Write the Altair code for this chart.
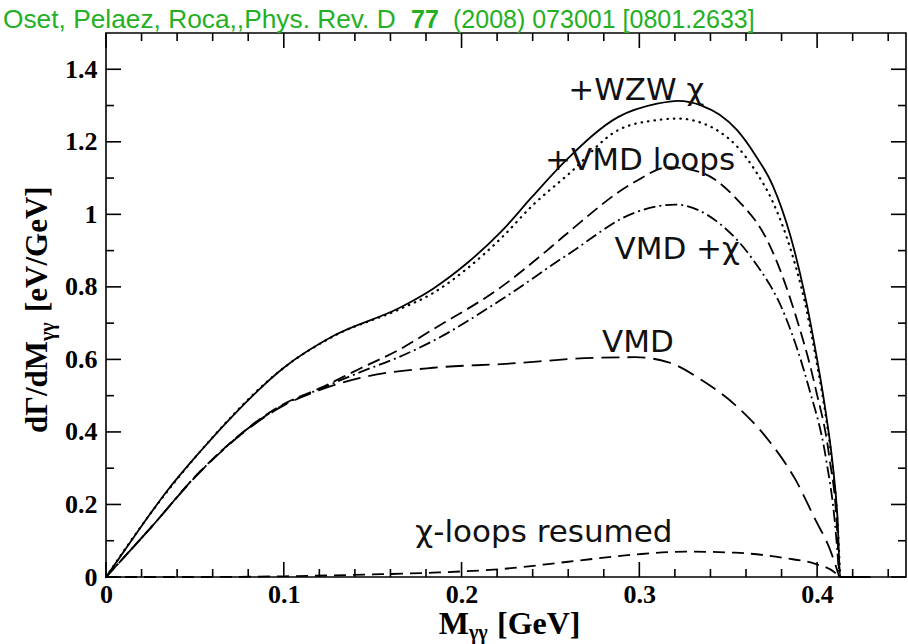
import altair as alt
import pandas as pd

# ---------------- data ----------------
solid_x = [0, 0.01, 0.025, 0.034, 0.053, 0.072, 0.1, 0.128, 0.1655, 0.184, 0.203, 0.2224, 0.24, 0.26,
           0.288, 0.31, 0.322, 0.335, 0.345, 0.355, 0.365, 0.375, 0.385, 0.393, 0.4, 0.405, 0.409,
           0.4115, 0.413, 0.43]
solid_y = [0, 0.07, 0.175, 0.235, 0.346, 0.448, 0.577, 0.665, 0.743, 0.795, 0.865, 0.953, 1.05, 1.155,
           1.268, 1.305, 1.313, 1.300, 1.275, 1.232, 1.165, 1.08, 0.94, 0.78, 0.6, 0.45, 0.3,
           0.16, 0, 0]

dotted_x = [0, 0.025, 0.053, 0.1, 0.128, 0.1655, 0.184, 0.203, 0.2224, 0.24, 0.26, 0.288, 0.31, 0.322,
            0.335, 0.345, 0.355, 0.365, 0.375, 0.385, 0.393, 0.4, 0.405, 0.409, 0.4115, 0.413]
dotted_y = [0, 0.175, 0.346, 0.577, 0.664, 0.739, 0.783, 0.85, 0.935, 1.025, 1.11, 1.232, 1.26, 1.264,
            1.252, 1.228, 1.187, 1.122, 1.035, 0.905, 0.76, 0.585, 0.44, 0.29, 0.15, 0]

dashed_x = [0, 0.025, 0.053, 0.1, 0.12, 0.143, 0.165, 0.184, 0.2224, 0.248, 0.26, 0.2976, 0.3164,
            0.335, 0.354, 0.373, 0.388, 0.399, 0.407, 0.411, 0.4125]
dashed_y = [0, 0.135, 0.291, 0.477, 0.52, 0.575, 0.627, 0.683, 0.80, 0.90, 0.95, 1.09, 1.13,
            1.115, 1.046, 0.918, 0.72, 0.523, 0.326, 0.15, 0]

dashdot_x = [0, 0.025, 0.053, 0.1, 0.12, 0.143, 0.165, 0.184, 0.2224, 0.26, 0.2976, 0.32, 0.3445,
             0.3633, 0.382, 0.3953, 0.405, 0.41, 0.4125]
dashdot_y = [0, 0.135, 0.291, 0.475, 0.518, 0.565, 0.607, 0.651, 0.765, 0.89, 1.005, 1.027, 0.977,
             0.879, 0.72, 0.523, 0.326, 0.15, 0]

vmd_x = [0, 0.025, 0.053, 0.1, 0.12, 0.143, 0.184, 0.2224, 0.2788, 0.2976, 0.3164, 0.335, 0.354,
         0.373, 0.388, 0.399, 0.407, 0.4125]
vmd_y = [0, 0.135, 0.29, 0.473, 0.515, 0.549, 0.577, 0.587, 0.605, 0.606, 0.592, 0.543, 0.474,
         0.375, 0.267, 0.158, 0.079, 0]

chiloop_x = [0, 0.05, 0.1, 0.15, 0.184, 0.2224, 0.26, 0.2976, 0.326, 0.354, 0.382, 0.399, 0.41, 0.4125]
chiloop_y = [0, 0.0, 0.002, 0.007, 0.012, 0.022, 0.042, 0.062, 0.07, 0.067, 0.052, 0.036, 0.012, 0]

label_text = ["+WZW \u03c7", "+VMD loops", "VMD +\u03c7", "VMD", "\u03c7-loops resumed"]
label_x = [0.26, 0.247, 0.286, 0.279, 0.174]
label_y = [1.314, 1.123, 0.876, 0.62, 0.096]

x_major = [0, 0.1, 0.2, 0.3, 0.4]
x_minor = [0.02, 0.04, 0.06, 0.08, 0.12, 0.14, 0.16, 0.18, 0.22, 0.24, 0.26, 0.28,
           0.32, 0.34, 0.36, 0.38, 0.42, 0.44]
y_major = [0, 0.2, 0.4, 0.6, 0.8, 1.0, 1.2, 1.4]
y_minor = [0.1, 0.3, 0.5, 0.7, 0.9, 1.1, 1.3]

X_MAX, Y_MAX = 0.45, 1.5

# ---------------- layout ----------------
W, H = 800, 544
SERIF = "Liberation Serif"
SANS = "DejaVu Sans"
GREEN = "#24b024"
MAJOR_PX, MINOR_PX, TICK_W_PX = 15, 8, 1.6

xs = alt.Scale(domain=[0, X_MAX], nice=False, zero=False)
ys = alt.Scale(domain=[0, Y_MAX], nice=False, zero=False)
xaxis = alt.Axis(values=x_major, format="~g", ticks=False, domain=False, grid=False,
                 labelFont=SERIF, labelFontWeight="bold", labelFontSize=26, labelColor="black",
                 labelPadding=4, labelFlush=False, labelOverlap=False)
yaxis = alt.Axis(values=y_major, format="~g", ticks=False, domain=False, grid=False,
                 labelFont=SERIF, labelFontWeight="bold", labelFontSize=26, labelColor="black",
                 labelPadding=9, labelOverlap=False)


def X(field):
    return alt.X(field, scale=xs, axis=xaxis, title="")


def Y(field):
    return alt.Y(field, scale=ys, axis=yaxis, title="")


layers = []

# inward tick marks on all four sides, drawn as thin filled rectangles
px_x = X_MAX / W   # data units per pixel, x
px_y = Y_MAX / H   # data units per pixel, y
rects = []
for vals, L in [(x_major, MAJOR_PX), (x_minor, MINOR_PX)]:
    for v in vals:
        x1, x2 = v - TICK_W_PX / 2 * px_x, v + TICK_W_PX / 2 * px_x
        rects.append({"a": x1, "a2": x2, "b": 0.0, "b2": L * px_y})
        rects.append({"a": x1, "a2": x2, "b": Y_MAX - L * px_y, "b2": Y_MAX})
for vals, L in [(y_major, MAJOR_PX), (y_minor, MINOR_PX)]:
    for v in vals:
        y1, y2 = v - TICK_W_PX / 2 * px_y, v + TICK_W_PX / 2 * px_y
        rects.append({"a": 0.0, "a2": L * px_x, "b": y1, "b2": y2})
        rects.append({"a": X_MAX - L * px_x, "a2": X_MAX, "b": y1, "b2": y2})
rect_df = pd.DataFrame(rects)
layers.append(alt.Chart(rect_df).mark_rect(color="black", strokeWidth=0).encode(
    x=X("a:Q"), x2="a2:Q", y=Y("b:Q"), y2="b2:Q"))

# curves
curves = [
    (solid_x, solid_y, {}),
    (dotted_x, dotted_y, {"strokeDash": [0.5, 6], "strokeCap": "round", "strokeWidth": 2.2}),
    (dashed_x, dashed_y, {"strokeDash": [13, 6]}),
    (dashdot_x, dashdot_y, {"strokeDash": [12, 4, 2, 4]}),
    (vmd_x, vmd_y, {"strokeDash": [18, 8]}),
    (chiloop_x, chiloop_y, {"strokeDash": [12, 7]}),
]
for cx, cy, style in curves:
    kw = {"color": "black", "strokeWidth": 1.8, "interpolate": "monotone"}
    kw.update(style)
    df = pd.DataFrame({"x": cx, "y": cy})
    layers.append(alt.Chart(df).mark_line(**kw).encode(x=X("x:Q"), y=Y("y:Q")))

# curve labels
lab = pd.DataFrame({"t": label_text, "x": label_x, "y": label_y})
layers.append(alt.Chart(lab).mark_text(align="left", baseline="alphabetic", font=SANS,
                                       fontSize=31, color="#111111").encode(
    x=X("x:Q"), y=Y("y:Q"), text="t:N"))


def free_text(txt, px, py, **kw):
    df = pd.DataFrame({"t": [txt]})
    return alt.Chart(df).mark_text(**kw).encode(x=alt.value(px), y=alt.value(py), text="t:N")


# header (reference line)
layers.append(free_text("Oset, Pelaez, Roca,,Phys. Rev. D", 3 - 106, -5, align="left",
                        baseline="alphabetic", font="Liberation Sans", fontSize=26.3, color=GREEN))
layers.append(free_text("77", 411 - 106, -5, align="left", baseline="alphabetic",
                        font="Liberation Sans", fontSize=25, fontWeight="bold", color=GREEN))
layers.append(free_text("(2008) 073001 [0801.2633]", 453 - 106, -5, align="left",
                        baseline="alphabetic", font="Liberation Sans", fontSize=25, color=GREEN))

# x axis title: M_{gamma gamma} [GeV]
tx0, tyb = 363, 601
layers.append(free_text("M", tx0, tyb, align="right", baseline="alphabetic", font=SERIF,
                        fontSize=32, fontWeight="bold", color="black"))
layers.append(free_text("\u03b3\u03b3", tx0, tyb + 5, align="left", baseline="alphabetic",
                        font=SERIF, fontSize=20, fontWeight="bold", color="black"))
layers.append(free_text("[GeV]", tx0 + 28, tyb, align="left", baseline="alphabetic", font=SERIF,
                        fontSize=32, fontWeight="bold", color="black"))

# y axis title: dGamma/dM_{gamma gamma} [eV/GeV]
yx0, yy0 = -59, 308
layers.append(free_text("d\u0393/dM", yx0, yy0, align="right", baseline="alphabetic", angle=270,
                        font=SERIF, fontSize=31, fontWeight="bold", color="black"))
layers.append(free_text("\u03b3\u03b3", yx0 + 7, yy0, align="left", baseline="alphabetic",
                        angle=270, font=SERIF, fontSize=20, fontWeight="bold", color="black"))
layers.append(free_text("[eV/GeV]", yx0, yy0 - 29, align="left", baseline="alphabetic",
                        angle=270, font=SERIF, fontSize=31, fontWeight="bold", color="black"))

chart = alt.layer(*layers).properties(
    width=W, height=H,
    padding={"left": 106, "top": 33, "right": 2, "bottom": 67},
    autosize=alt.AutoSizeParams(type="none"),
    background="white",
).configure_view(stroke="black", strokeWidth=1.6)

chart.save("out.html", embed_options={"renderer": "svg", "actions": False})
